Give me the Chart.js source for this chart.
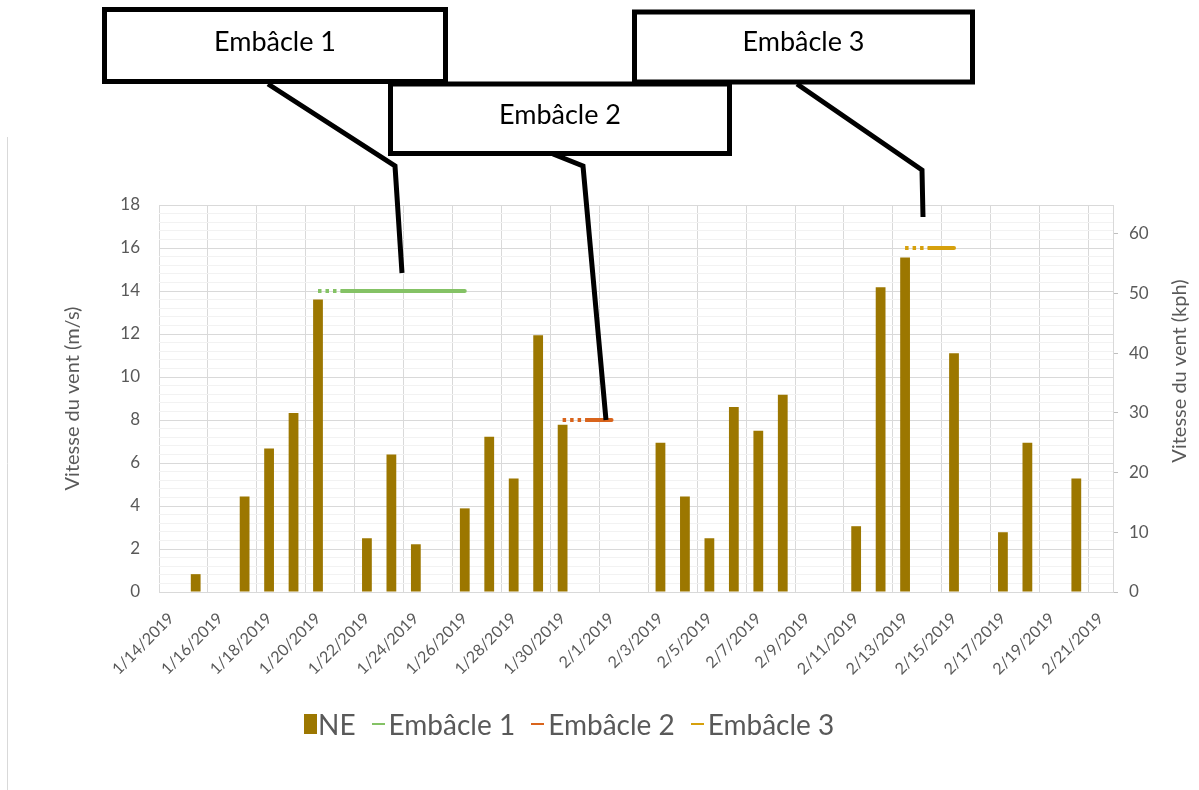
<!DOCTYPE html>
<html lang="fr">
<head>
<meta charset="utf-8">
<title>Vitesse du vent NE et embâcles</title>
<script src="https://cdn.jsdelivr.net/npm/chart.js@4.4.1/dist/chart.umd.min.js"></script>
<style>
    body { margin: 0; background: #ffffff; }
    #cadre { position: relative; width: 1199px; height: 790px; }
    #legenda {
        position: absolute; left: 304px; top: 707px;
        display: flex; align-items: center;
        font-family: Lato, sans-serif; font-size: 28px; color: #595959;
        white-space: nowrap;
    }
    #legenda .item { display: flex; align-items: center; margin-right: 16px; }
    #legenda .caixa { display: inline-block; width: 13px; height: 20px; margin-right: 1px; }
    #legenda .linha { display: inline-block; width: 13px; height: 2px; margin-right: 4px; }
</style>
</head>
<body>
<div id="cadre">
    <canvas id="graficoVent" width="1199" height="790"></canvas>
    <div id="legenda"></div>
</div>
<script>
// jours affichés sur l'axe horizontal
const jours = [
    '1/14/2019', '1/15/2019', '1/16/2019', '1/17/2019', '1/18/2019', '1/19/2019', '1/20/2019',
    '1/21/2019', '1/22/2019', '1/23/2019', '1/24/2019', '1/25/2019', '1/26/2019', '1/27/2019',
    '1/28/2019', '1/29/2019', '1/30/2019', '1/31/2019', '2/1/2019', '2/2/2019', '2/3/2019',
    '2/4/2019', '2/5/2019', '2/6/2019', '2/7/2019', '2/8/2019', '2/9/2019', '2/10/2019',
    '2/11/2019', '2/12/2019', '2/13/2019', '2/14/2019', '2/15/2019', '2/16/2019', '2/17/2019',
    '2/18/2019', '2/19/2019', '2/20/2019', '2/21/2019'
];

// vitesse du vent NE (m/s), null = pas de vent NE ce jour-là
const ventNE = [
    null, 0.83, null, 4.44, 6.67, 8.33, 13.61,
    null, 2.5, 6.39, 2.22, null, 3.89, 7.22,
    5.28, 11.94, 7.78, null, null, null, 6.94,
    4.44, 2.5, 8.61, 7.5, 9.17, null, null,
    3.06, 14.17, 15.56, null, 11.11, null, 2.78,
    6.94, null, 5.28, null
];

// périodes d'embâcle (jours + niveau tracé)
const embacle1Jours = ['1/20/2019', '1/21/2019', '1/22/2019', '1/23/2019', '1/24/2019', '1/25/2019', '1/26/2019'];
const embacle1Niveau = [14, 14, 14, 14, 14, 14, 14];
const embacle2Jours = ['1/30/2019', '1/31/2019', '2/1/2019'];
const embacle2Niveau = [8, 8, 8];
const embacle3Jours = ['2/13/2019', '2/14/2019', '2/15/2019'];
const embacle3Niveau = [16, 16, 16];

const nomsSeries = ['NE', 'Embâcle 1', 'Embâcle 2', 'Embâcle 3'];
const couleurs   = ['#9c7700', '#84c265', '#d9641c', '#d6a00c'];

// échelle droite en km/h : 18 m/s * 3.6
const maxMs  = 18;
const maxKph = 64.8;

const cinzaTexto = '#595959';
const fonte = 'Lato, sans-serif';

function pontos(dias, niveis) {
    return dias.map((d, i) => ({ x: d, y: niveis[i] }));
}

function linhaEmbacle(indice, dias, niveis) {
    return {
        type: 'line',
        label: nomsSeries[indice],
        data: pontos(dias, niveis),
        borderColor: couleurs[indice],
        backgroundColor: couleurs[indice],
        borderWidth: 4,
        pointRadius: 0,
        order: 1,
        segment: {
            // premier jour en pointillé
            borderDash: ctx => ctx.p0DataIndex === 0 ? [3.5, 4] : undefined,
            borderCapStyle: ctx => ctx.p0DataIndex === 0 ? 'butt' : 'round'
        }
    };
}

function ehMaior(v) {
    return Math.abs(v / 2 - Math.round(v / 2)) < 1e-6;
}

// cadre, titre de droite et bulles d'annotation
const bulles = [
    { texte: 'Embâcle 1', x: 104.5, y: 9.5, w: 341, h: 72, base: 41, trajet: [[268, 84], [395, 166], [402, 273]] },
    { texte: 'Embâcle 3', x: 634.5, y: 12, w: 338, h: 70, base: 39, trajet: [[797, 84], [922, 170], [923, 217]] },
    { texte: 'Embâcle 2', x: 390.5, y: 84, w: 339, h: 69.5, base: 40, trajet: [[553, 154], [583, 166], [606, 420]] }
];

const pluginDecor = {
    id: 'decor',
    beforeDraw(chart) {
        const ctx = chart.ctx;
        ctx.save();
        ctx.strokeStyle = '#d9d9d9';
        ctx.lineWidth = 1;
        ctx.beginPath();
        ctx.moveTo(7.5, 137);
        ctx.lineTo(7.5, 790);
        ctx.stroke();
        ctx.restore();
    },
    afterDraw(chart) {
        const ctx = chart.ctx;
        const area = chart.chartArea;
        ctx.save();

        // titre de l'axe droit, lu de bas en haut
        ctx.fillStyle = cinzaTexto;
        ctx.font = '20px ' + fonte;
        ctx.textAlign = 'center';
        ctx.textBaseline = 'middle';
        ctx.translate(area.right + 67, 371);
        ctx.rotate(-Math.PI / 2);
        ctx.fillText('Vitesse du vent (kph)', 0, 0);
        ctx.setTransform(1, 0, 0, 1, 0, 0);

        ctx.strokeStyle = '#000000';
        ctx.lineWidth = 5;
        ctx.lineJoin = 'miter';
        bulles.forEach(b => {
            ctx.beginPath();
            b.trajet.forEach((p, i) => i === 0 ? ctx.moveTo(p[0], p[1]) : ctx.lineTo(p[0], p[1]));
            ctx.stroke();
        });
        bulles.forEach(b => {
            ctx.fillStyle = '#ffffff';
            ctx.fillRect(b.x, b.y, b.w, b.h);
            ctx.strokeRect(b.x, b.y, b.w, b.h);
            ctx.fillStyle = '#000000';
            ctx.font = '27px ' + fonte;
            ctx.textAlign = 'center';
            ctx.textBaseline = 'alphabetic';
            ctx.fillText(b.texte, b.x + b.w / 2, b.y + b.base);
        });
        ctx.restore();
    }
};

const grafico = new Chart(document.getElementById('graficoVent'), {
    data: {
        labels: jours,
        datasets: [
            {
                type: 'bar',
                label: nomsSeries[0],
                data: ventNE,
                backgroundColor: couleurs[0],
                barPercentage: 0.4,
                categoryPercentage: 1,
                order: 4
            },
            linhaEmbacle(1, embacle1Jours, embacle1Niveau),
            linhaEmbacle(2, embacle2Jours, embacle2Niveau),
            linhaEmbacle(3, embacle3Jours, embacle3Niveau)
        ]
    },
    options: {
        responsive: false,
        animation: false,
        devicePixelRatio: 1,
        layout: { padding: { top: 205, left: 60, right: 0, bottom: 0 } },
        plugins: {
            legend: { display: false },
            tooltip: { enabled: false }
        },
        scales: {
            x: {
                grid: {
                    offset: true,
                    drawTicks: false,
                    color: ctx => ctx.index % 2 === 0 ? '#d9d9d9' : 'rgba(0,0,0,0)'
                },
                border: { color: '#d9d9d9' },
                ticks: {
                    autoSkip: false,
                    minRotation: 45,
                    maxRotation: 45,
                    padding: 17,
                    color: cinzaTexto,
                    font: { family: fonte, size: 16 },
                    callback: (v, i) => i % 2 === 0 ? jours[i] : ''
                },
                afterFit: s => { s.height = 198; }
            },
            y: {
                position: 'left',
                min: 0,
                max: maxMs,
                grid: {
                    drawTicks: false,
                    color: ctx => ehMaior(ctx.tick.value) ? '#d9d9d9' : '#f2f2f2'
                },
                border: { display: false },
                ticks: {
                    autoSkip: false,
                    stepSize: 0.4,
                    padding: 19,
                    color: cinzaTexto,
                    font: { family: fonte, size: 17 },
                    callback: v => ehMaior(v) ? Math.round(v) : ''
                },
                title: {
                    display: true,
                    text: 'Vitesse du vent (m/s)',
                    color: cinzaTexto,
                    font: { family: fonte, size: 20 },
                    padding: { top: 1, bottom: 0 }
                },
                afterFit: s => { s.width = 99; }
            },
            y1: {
                position: 'right',
                min: 0,
                max: maxKph,
                grid: { drawOnChartArea: false, tickLength: 5, color: '#bfbfbf' },
                border: { color: '#d9d9d9' },
                ticks: {
                    autoSkip: false,
                    stepSize: 10,
                    padding: 11,
                    color: cinzaTexto,
                    font: { family: fonte, size: 17 }
                },
                afterBuildTicks: s => { s.ticks = s.ticks.filter(t => t.value % 10 === 0); },
                afterFit: s => { s.width = 86; }
            }
        }
    },
    plugins: [pluginDecor]
});

// légende construite à partir des séries
const legenda = document.getElementById('legenda');
nomsSeries.forEach((nome, i) => {
    const item = document.createElement('span');
    item.className = 'item';
    const marca = document.createElement('span');
    marca.className = i === 0 ? 'caixa' : 'linha';
    marca.style.background = couleurs[i];
    const texto = document.createElement('span');
    texto.textContent = nome;
    item.appendChild(marca);
    item.appendChild(texto);
    legenda.appendChild(item);
});
</script>
</body>
</html>
